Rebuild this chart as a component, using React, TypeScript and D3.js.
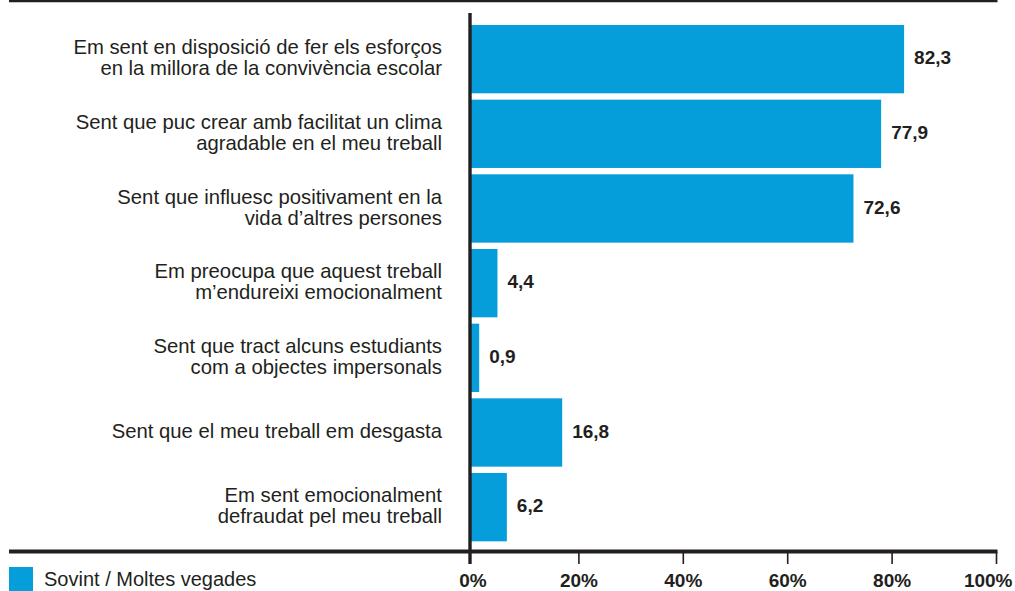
import { scaleBand, scaleLinear } from "d3";

const categories: string[][] = [
  ["Em sent en disposició de fer els esforços", "en la millora de la convivència escolar"],
  ["Sent que puc crear amb facilitat un clima", "agradable en el meu treball"],
  ["Sent que influesc positivament en la", "vida d’altres persones"],
  ["Em preocupa que aquest treball", "m’endureixi emocionalment"],
  ["Sent que tract alcuns estudiants", "com a objectes impersonals"],
  ["Sent que el meu treball em desgasta"],
  ["Em sent emocionalment", "defraudat pel meu treball"],
];
const values = [82.3, 77.9, 72.6, 4.4, 0.9, 16.8, 6.2];
const ticks = [0, 20, 40, 60, 80, 100];
const legendLabel = "Sovint / Moltes vegades";

const W = 1015;
const H = 591;
const BLUE = "#069ddb";
const INK = "#231f20";
const FONT = "'Liberation Sans', Arial, Helvetica, sans-serif";

export default function App() {
  const x = scaleLinear().domain([0, 100]).range([474.5, 996.5]);
  const y = scaleBand<number>()
    .domain(values.map((_, i) => i))
    .range([21.8, 544.5])
    .paddingInner(0.085)
    .paddingOuter(0.0425);

  const axisX = x(0) - 4.5;
  const axisY = 551.5;
  const fmt = (v: number) => v.toFixed(1).replace(".", ",");

  return (
    <svg
      width={W}
      height={H}
      viewBox={`0 0 ${W} ${H}`}
      style={{ position: "absolute", left: 0, top: 0, background: "#fff" }}
      fontFamily={FONT}
    >
      <line x1={9} x2={x(100) + 1} y1={1} y2={1} stroke={INK} strokeWidth={2.4} />

      {values.map((v, i) => {
        const y0 = y(i) ?? 0;
        const cy = y0 + y.bandwidth() / 2;
        const lines = categories[i];
        return (
          <g key={i}>
            <rect x={axisX} y={y0} width={x(v) - axisX} height={y.bandwidth()} fill={BLUE} />
            <text
              x={x(v) + 10}
              y={cy}
              dy="0.28em"
              fontSize={19}
              fontWeight="bold"
              fill={INK}
            >
              {fmt(v)}
            </text>
            {lines.map((t, j) => (
              <text
                key={j}
                x={442}
                y={cy + (j - (lines.length - 1) / 2) * 21}
                dy="0.28em"
                textAnchor="end"
                fontSize={20.3}
                fill={INK}
              >
                {t}
              </text>
            ))}
          </g>
        );
      })}

      <line x1={9} x2={x(100) + 1} y1={axisY} y2={axisY} stroke={INK} strokeWidth={3.8} />
      <line x1={axisX} x2={axisX} y1={13} y2={564} stroke={INK} strokeWidth={3.4} />

      {ticks.map((t, i) => {
        const tx = i === 0 ? axisX : x(t);
        const last = i === ticks.length - 1;
        return (
          <g key={t}>
            {i > 0 ? (
              <line x1={tx} x2={tx} y1={axisY} y2={564} stroke={INK} strokeWidth={1.6} />
            ) : null}
            <text
              x={last ? tx + 16 : i === 0 ? tx + 3 : tx}
              y={586.5}
              textAnchor={last ? "end" : "middle"}
              fontSize={19}
              fontWeight="bold"
              fill={INK}
            >
              {t}%
            </text>
          </g>
        );
      })}

      <rect x={9} y={567} width={24} height={26} fill={BLUE} />
      <text x={44} y={586} fontSize={20} fill={INK}>
        {legendLabel}
      </text>
    </svg>
  );
}
